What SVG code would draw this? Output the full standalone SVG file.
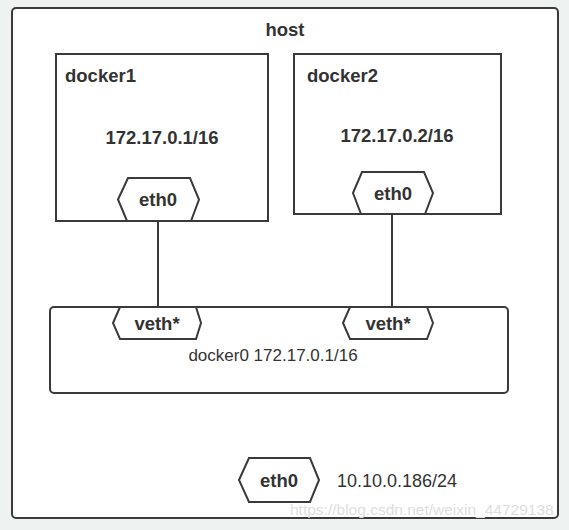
<svg xmlns="http://www.w3.org/2000/svg" width="569" height="530" viewBox="0 0 569 530">
<style>
.box{fill:#fff;stroke:#3a3a3a;stroke-width:2}
.hex{fill:#fff;stroke:#3a3a3a;stroke-width:2;stroke-linejoin:miter}
.line{stroke:#3a3a3a;stroke-width:2;fill:none}
.b{font-family:"Liberation Sans",Arial,sans-serif;font-weight:bold;font-size:18.5px;fill:#333}
.n{font-family:"Liberation Sans",Arial,sans-serif;font-size:17px;fill:#333}
.m{text-anchor:middle}
</style>
<rect x="0" y="0" width="569" height="530" fill="#eef2f0"/>
<g id="host">
<rect class="box" x="12" y="8" width="546" height="510" rx="4"/>
<text class="b m" x="285" y="36">host</text>
</g>
<g id="docker1">
<rect class="box" x="56" y="54" width="212" height="167"/>
<text class="b" x="65" y="82">docker1</text>
<text class="b m" x="162" y="144">172.17.0.1/16</text>
</g>
<g id="docker2">
<rect class="box" x="294" y="54" width="207" height="160"/>
<text class="b" x="307" y="82">docker2</text>
<text class="b m" x="397" y="142">172.17.0.2/16</text>
</g>
<g id="docker0">
<rect class="box" x="50" y="307" width="458" height="86" rx="4"/>
<text class="n m" x="273" y="361">docker0 172.17.0.1/16</text>
</g>
<g id="connectors">
<line class="line" x1="158" y1="221" x2="158" y2="307"/>
<line class="line" x1="392" y1="214" x2="392" y2="307"/>
</g>
<g id="docker1-eth0">
<polygon class="hex" points="118,199.5 128,178 190,178 199,199.5 191,221 127,221"/>
<text class="b m" x="158" y="206">eth0</text>
</g>
<g id="docker2-eth0">
<polygon class="hex" points="353,193 362,172 424,172 433,193 425,214 361,214"/>
<text class="b m" x="393" y="200">eth0</text>
</g>
<g id="veth1">
<polygon class="hex" points="113,323 120,307 196,307 201,323 196,339 120,339"/>
<text class="b m" x="157" y="330">veth*</text>
</g>
<g id="veth2">
<polygon class="hex" points="343,323 350,307 427,307 433,323 427,339 350,339"/>
<text class="b m" x="388" y="330">veth*</text>
</g>
<g id="host-eth0">
<polygon class="hex" points="239,480 249,458 310,458 319,480 310,502 249,502"/>
<text class="b m" x="279" y="487">eth0</text>
<text class="n" x="337" y="487" style="font-size:18px">10.10.0.186/24</text>
</g>
<text x="290" y="515" style="font-family:'Liberation Sans',Arial,sans-serif;font-size:15.5px;fill:#dedede">https://blog.csdn.net/weixin_44729138</text>
</svg>
